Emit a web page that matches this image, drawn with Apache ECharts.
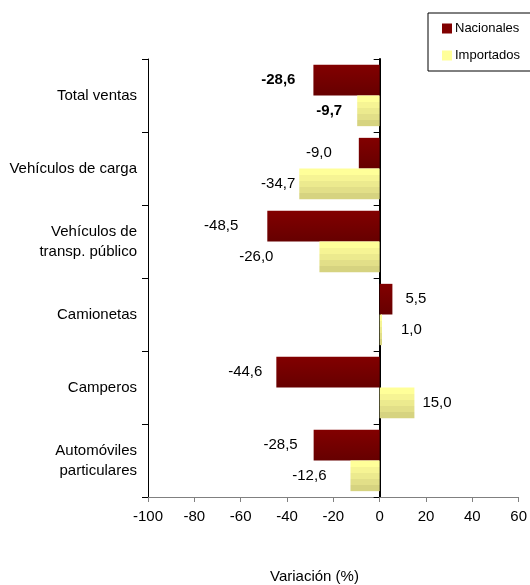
<!DOCTYPE html>
<html><head><meta charset="utf-8">
<script src="https://cdn.jsdelivr.net/npm/echarts@6/dist/echarts.min.js"></script>
<style>html,body{margin:0;padding:0;background:#fff}#c{width:530px;height:585px}</style>
</head><body><div id="c"></div>
<script>
var categories = ['Total ventas', 'Vehículos de carga', 'Vehículos de\ntransp. público', 'Camionetas', 'Camperos', 'Automóviles\nparticulares'];
var nacionales = [-28.6, -9.0, -48.5, 5.5, -44.6, -28.5];
var importados = [-9.7, -34.7, -26.0, 1.0, 15.0, -12.6];
var xTicks = {min: -100, max: 60, interval: 20};
// label gaps (style only)
var gapNac = [18, 27, 29, 13, 14, 16];
var gapImp = [15, 4, 46, 19, 8, 24];

var F = 'Liberation Sans, Arial, sans-serif';
function fmt(v){ return v.toFixed(1).replace('.', ','); }
function items(vals, gaps){
  return vals.map(function(v,i){
    return {value: v, label: {position: v < 0 ? 'left' : 'right', distance: gaps[i], fontWeight: i === 0 ? 'bold' : 'normal'}};
  });
}
var redGrad = new echarts.graphic.LinearGradient(0,0,0,1,[
  {offset:0,color:'#820000'},{offset:1,color:'#660000'}]);
var yelGrad = new echarts.graphic.LinearGradient(0,0,0,1,[
  {offset:0,color:'#ffff99'},{offset:0.2,color:'#ffff99'},
  {offset:0.2,color:'#f6f494'},{offset:0.4,color:'#f6f494'},
  {offset:0.4,color:'#ecea8e'},{offset:0.6,color:'#ecea8e'},
  {offset:0.6,color:'#e2df88'},{offset:0.8,color:'#e2df88'},
  {offset:0.8,color:'#d6d380'},{offset:1,color:'#d6d380'}]);

var chart = echarts.init(document.getElementById('c'), null, {renderer:'canvas'});
chart.setOption({
  backgroundColor: '#fff',
  animation: false,
  textStyle: {fontFamily: F},
  grid: {left: 148, right: 8, top: 59, bottom: 88, containLabel: false},
  legend: {
    orient: 'vertical', left: 428, top: 13,
    itemWidth: 10, itemHeight: 10, itemGap: 12,
    padding: [8, 40, 8, 14], borderColor: '#000', borderWidth: 1,
    textStyle: {fontFamily: F, fontSize: 13, color: '#000', padding: [0,0,0,-2], lineHeight: 15},
    data: [{name:'Nacionales', icon:'rect', itemStyle:{color:'#800000'}},
           {name:'Importados', icon:'rect', itemStyle:{color:'#ffff99'}}]
  },
  xAxis: {
    type: 'value', min: xTicks.min, max: xTicks.max, interval: xTicks.interval,
    axisLine: {show: true, lineStyle: {color: '#808080', width: 1}},
    axisTick: {show: true, length: 5, lineStyle: {color: '#808080'}},
    axisLabel: {color: '#000', fontSize: 15, fontFamily: F, margin: 12},
    splitLine: {show: false}
  },
  yAxis: [{
    type: 'category', data: categories, inverse: true, position: 'left',
    axisLine: {show: true, onZero: false, lineStyle: {color: '#000', width: 1}},
    axisTick: {show: true, length: 6, lineStyle: {color: '#000'}},
    axisLabel: {color: '#000', fontSize: 15, fontFamily: F, margin: 11, align: 'right', lineHeight: 20}
  }, {
    type: 'category', data: categories, inverse: true, position: 'left',
    axisLine: {show: true, onZero: true, lineStyle: {color: '#000', width: 2}},
    axisTick: {show: true, length: 6, lineStyle: {color: '#000'}},
    axisLabel: {show: false}
  }],
  series: [{
    name: 'Nacionales', type: 'bar', yAxisIndex: 0,
    data: items(nacionales, gapNac),
    barGap: '0%', barCategoryGap: '16%',
    itemStyle: {color: redGrad},
    label: {show: true, color: '#000', fontSize: 15, fontFamily: F, formatter: function(p){return fmt(p.value);}}
  }, {
    name: 'Importados', type: 'bar', yAxisIndex: 0,
    data: items(importados, gapImp),
    barGap: '0%', barCategoryGap: '16%',
    itemStyle: {color: yelGrad},
    label: {show: true, color: '#000', fontSize: 15, fontFamily: F, formatter: function(p){return fmt(p.value);}}
  }],
  graphic: [{
    type: 'text', left: 270, top: 569,
    style: {text: 'Variación (%)', fontFamily: F, fontSize: 15, fill: '#000'}
  }]
});
</script></body></html>
